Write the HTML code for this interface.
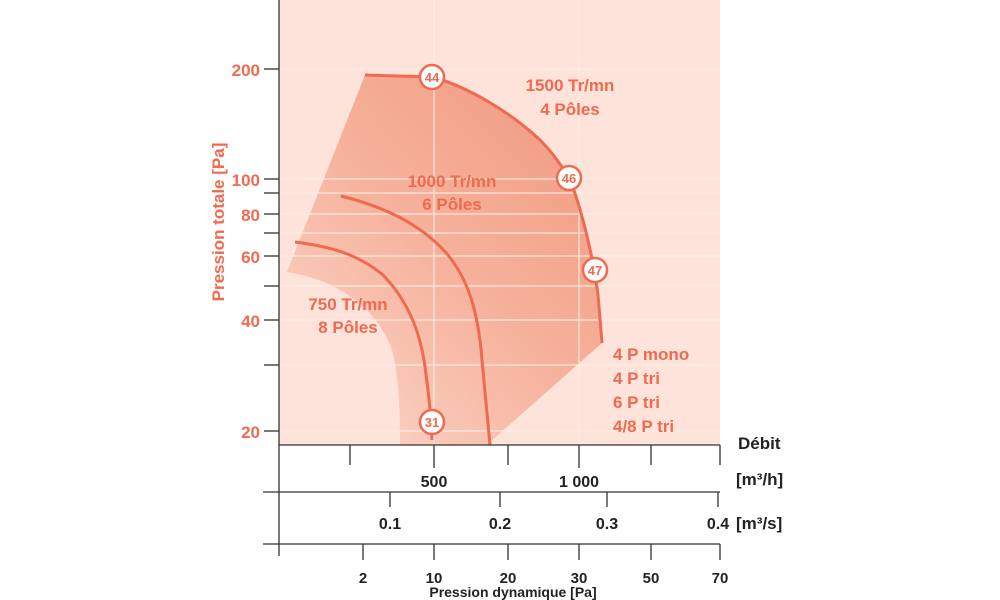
<!DOCTYPE html>
<html><head><meta charset="utf-8"><style>
html,body{margin:0;padding:0;background:#fff;width:1000px;height:600px;overflow:hidden}
svg{display:block}
.o{font-family:"Liberation Sans",sans-serif;font-weight:bold;fill:#ef6a4f}
.k{font-family:"Liberation Sans",sans-serif;font-weight:bold;fill:#222}
</style></head><body>
<svg width="1000" height="600" viewBox="0 0 1000 600">
<defs>
<linearGradient id="g" x1="300" y1="420" x2="580" y2="150" gradientUnits="userSpaceOnUse">
<stop offset="0" stop-color="#fbd7ca"/><stop offset="0.55" stop-color="#f6b29c"/><stop offset="1" stop-color="#f29f86"/>
</linearGradient>
</defs>
<rect x="279" y="0" width="441" height="445" fill="#fde3da"/>
<path d="M365,75 L287,272 C340,280 378,310 392,350 C400,380 400,420 400,445 L490,445 Z" fill="#fbd0c1" opacity="0.8"/>
<path d="M365,75 L433,77 C470,88 510,112 540,140 C555,155 565,170 572,185 C585,220 595,270 598,295 L602,343 L490,442 L490,445 L400,445 C400,420 400,380 392,350 C378,310 340,280 287,272 Z" fill="url(#g)"/>
<g stroke="#fdeee8" stroke-width="1.2" opacity="0.9">
<line x1="279" x2="720" y1="69" y2="69"/><line x1="279" x2="720" y1="179" y2="179"/>
<line x1="279" x2="720" y1="193" y2="193"/><line x1="279" x2="720" y1="214" y2="214"/>
<line x1="279" x2="720" y1="233" y2="233"/><line x1="279" x2="720" y1="256" y2="256"/>
<line x1="279" x2="720" y1="286" y2="286"/><line x1="279" x2="720" y1="320" y2="320"/>
<line x1="279" x2="720" y1="365" y2="365"/><line x1="279" x2="720" y1="431" y2="431"/>
<line x1="434" x2="434" y1="0" y2="445"/><line x1="579" x2="579" y1="0" y2="445"/>
</g>
<g fill="none" stroke="#ef6a4f" stroke-width="3">
<path d="M365,75 L433,77 C470,88 510,112 540,140 C555,155 565,170 572,185 C585,220 595,270 598,295 L602,343"/>
<path d="M341,196 C390,208 425,228 448,255 C468,280 478,310 482,360 L490,445"/>
<path d="M295,242 C335,247 360,256 383,275 C405,298 418,325 424,360 C429,395 431,415 432,440"/>
</g>
<g fill="#fff" stroke="#ef6a4f" stroke-width="2.5">
<circle cx="432" cy="77" r="12"/><circle cx="569" cy="178" r="12"/><circle cx="595" cy="270" r="12"/><circle cx="432" cy="422" r="12"/>
</g>
<g class="o" font-size="13" text-anchor="middle">
<text x="432" y="82">44</text><text x="569" y="183">46</text><text x="595" y="275">47</text><text x="432" y="427">31</text>
</g>
<g class="o" font-size="17" text-anchor="middle">
<text x="570" y="91">1500 Tr/mn</text><text x="570" y="115">4 Pôles</text>
<text x="452" y="187">1000 Tr/mn</text><text x="452" y="210">6 Pôles</text>
<text x="348" y="310">750 Tr/mn</text><text x="348" y="333">8 Pôles</text>
</g>
<g class="o" font-size="17">
<text x="613" y="360">4 P mono</text><text x="613" y="384">4 P tri</text>
<text x="613" y="408">6 P tri</text><text x="613" y="432">4/8 P tri</text>
</g>
<g stroke="#333" stroke-width="1.3">
<line x1="279" y1="0" x2="279" y2="556"/>
<line x1="264" x2="279" y1="69" y2="69"/><line x1="264" x2="279" y1="179" y2="179"/>
<line x1="264" x2="279" y1="193" y2="193"/><line x1="264" x2="279" y1="214" y2="214"/>
<line x1="264" x2="279" y1="233" y2="233"/><line x1="264" x2="279" y1="256" y2="256"/>
<line x1="264" x2="279" y1="286" y2="286"/><line x1="264" x2="279" y1="320" y2="320"/>
<line x1="264" x2="279" y1="365" y2="365"/><line x1="264" x2="279" y1="431" y2="431"/>
<line x1="279" x2="720" y1="445" y2="445"/>
<line x1="350" x2="350" y1="445" y2="465"/><line x1="434" x2="434" y1="445" y2="468"/>
<line x1="508" x2="508" y1="445" y2="465"/><line x1="579" x2="579" y1="445" y2="468"/>
<line x1="651" x2="651" y1="445" y2="465"/><line x1="720" x2="720" y1="445" y2="465"/>
<line x1="263" x2="720" y1="492" y2="492"/>
<line x1="390" x2="390" y1="492" y2="507"/><line x1="500" x2="500" y1="492" y2="507"/>
<line x1="607" x2="607" y1="492" y2="507"/><line x1="718" x2="718" y1="492" y2="507"/>
<line x1="263" x2="720" y1="544" y2="544"/>
<line x1="363" x2="363" y1="544" y2="560"/><line x1="434" x2="434" y1="544" y2="560"/>
<line x1="508" x2="508" y1="544" y2="560"/><line x1="579" x2="579" y1="544" y2="560"/>
<line x1="651" x2="651" y1="544" y2="560"/><line x1="720" x2="720" y1="544" y2="560"/>
</g>
<g class="o" font-size="17" text-anchor="end">
<text x="260" y="76">200</text><text x="260" y="186">100</text><text x="260" y="221">80</text>
<text x="260" y="263">60</text><text x="260" y="327">40</text><text x="260" y="438">20</text>
</g>
<text class="o" font-size="17" transform="translate(224,222) rotate(-90)" text-anchor="middle">Pression totale [Pa]</text>
<g class="k" font-size="16" text-anchor="middle">
<text x="434" y="487">500</text><text x="579" y="487">1 000</text>
<text x="390" y="529">0.1</text><text x="500" y="529">0.2</text><text x="607" y="529">0.3</text><text x="718" y="529">0.4</text>
</g>
<g class="k" font-size="15" text-anchor="middle">
<text x="363" y="583">2</text><text x="434" y="583">10</text><text x="508" y="583">20</text>
<text x="579" y="583">30</text><text x="651" y="583">50</text><text x="720" y="583">70</text>
<text x="513" y="597" font-size="14">Pression dynamique [Pa]</text>
</g>
<g class="k" font-size="17">
<text x="738" y="449">Débit</text><text x="736" y="485">[m³/h]</text><text x="736" y="529">[m³/s]</text>
</g>
</svg>
</body></html>
